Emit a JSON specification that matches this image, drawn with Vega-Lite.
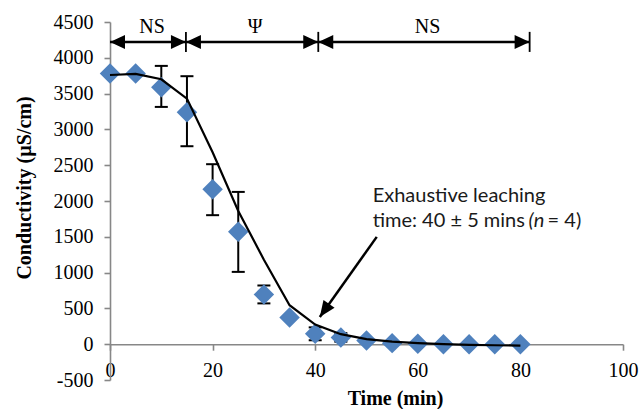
{
  "$schema": "https://vega.github.io/schema/vega-lite/v6.json",
  "width": 513,
  "height": 358,
  "autosize": {"type": "none"},
  "padding": {"left": 110, "top": 22, "right": 20, "bottom": 29},
  "background": "white",
  "config": {"view": {"stroke": null}},
  "datasets": {
    "obs": [
      {"t": 0, "c": 3780}, {"t": 5, "c": 3780}, {"t": 10, "c": 3590}, {"t": 15, "c": 3240},
      {"t": 20, "c": 2165}, {"t": 25, "c": 1570}, {"t": 30, "c": 694}, {"t": 35, "c": 373},
      {"t": 40, "c": 145}, {"t": 45, "c": 95}, {"t": 50, "c": 50}, {"t": 55, "c": 15},
      {"t": 60, "c": 5}, {"t": 65, "c": 0}, {"t": 70, "c": 0}, {"t": 75, "c": 0}, {"t": 80, "c": 0}
    ],
    "err": [
      {"t": 10, "lo": 3314, "hi": 3887}, {"t": 15, "lo": 2765, "hi": 3743},
      {"t": 20, "lo": 1802, "hi": 2514}, {"t": 25, "lo": 1010, "hi": 2127},
      {"t": 30, "lo": 570, "hi": 820}, {"t": 40, "lo": 55, "hi": 235},
      {"t": 45, "lo": 35, "hi": 155}
    ],
    "fit": [
      {"t": 0, "c": 3760}, {"t": 5, "c": 3775}, {"t": 10, "c": 3700}, {"t": 15, "c": 3430},
      {"t": 20, "c": 2680}, {"t": 25, "c": 1860}, {"t": 30, "c": 1180}, {"t": 35, "c": 545},
      {"t": 40, "c": 275}, {"t": 45, "c": 140}, {"t": 50, "c": 70}, {"t": 55, "c": 35},
      {"t": 60, "c": 15}, {"t": 65, "c": 0}, {"t": 70, "c": -10}, {"t": 75, "c": -15}, {"t": 80, "c": -20}
    ],
    "segs": [
      {"s": 0, "e": 14.8, "lx": 8.2, "label": "NS"},
      {"s": 14.8, "e": 40.6, "lx": 28.3, "label": "Ψ"},
      {"s": 40.6, "e": 81.8, "lx": 61.9, "label": "NS"}
    ],
    "arrow": [{"x": 52.0, "y": 1499, "x2": 40.9, "y2": 381}],
    "note": [
      {"x": 51.2, "y": 1989, "text": "Exhaustive leaching"},
      {"x": 51.2, "y": 1631, "text": "time: 40 ± 5 mins"},
      {"x": 85.3, "y": 1631, "text": "= 4)"}
    ],
    "noteItalic": [
      {"x": 81.6, "y": 1631, "text": "(n"}
    ]
  },
  "layer": [
    {
      "data": {"name": "err"},
      "mark": {"type": "rule", "color": "black", "strokeWidth": 2},
      "encoding": {
        "x": {"field": "t", "type": "quantitative", "scale": {"domain": [0, 100], "nice": false},
          "axis": {
            "values": [0, 20, 40, 60, 80, 100], "tickCount": 20, "grid": false, "offset": -35.8,
            "domainColor": "#878787", "domainWidth": 1.6, "tickColor": "#878787", "tickWidth": 1.6, "tickSize": 6,
            "labelFont": "Liberation Serif", "labelFontSize": 20, "labelColor": "black", "labelPadding": 10,
            "labelFlush": false, "labelOverlap": false,
            "title": "Time (min)", "titleFont": "Liberation Serif", "titleFontSize": 20, "titleFontWeight": "bold",
            "titleColor": "black", "titleX": 285, "titleY": 54, "titleBaseline": "middle", "titleAnchor": null
          }
        },
        "y": {"field": "lo", "type": "quantitative", "scale": {"domain": [-500, 4500], "nice": false},
          "axis": {
            "values": [-500, 0, 500, 1000, 1500, 2000, 2500, 3000, 3500, 4000, 4500], "tickCount": 20, "grid": false,
            "domainColor": "#878787", "domainWidth": 1.6, "tickColor": "#878787", "tickWidth": 1.6, "tickSize": 6,
            "labelFont": "Liberation Serif", "labelFontSize": 20, "labelColor": "black", "labelPadding": 11,
            "labelExpr": "'' + datum.value", "labelFlush": false, "labelOverlap": false,
            "title": "Conductivity (µS/cm)", "titleFont": "Liberation Serif", "titleFontSize": 20, "titleFontWeight": "bold",
            "titleColor": "black", "titleX": -86, "titleY": 165.5, "titleBaseline": "middle", "titleAngle": -90
          }
        },
        "y2": {"field": "hi"}
      }
    },
    {
      "data": {"name": "err"},
      "mark": {"type": "point", "shape": "M-1,0L1,0", "filled": false, "stroke": "black", "strokeWidth": 2, "size": 169, "opacity": 1},
      "encoding": {"x": {"field": "t", "type": "quantitative"}, "y": {"field": "lo", "type": "quantitative"}}
    },
    {
      "data": {"name": "err"},
      "mark": {"type": "point", "shape": "M-1,0L1,0", "filled": false, "stroke": "black", "strokeWidth": 2, "size": 169, "opacity": 1},
      "encoding": {"x": {"field": "t", "type": "quantitative"}, "y": {"field": "hi", "type": "quantitative"}}
    },
    {
      "data": {"name": "obs"},
      "mark": {"type": "point", "shape": "diamond", "filled": true, "color": "#4F81BD", "size": 420, "opacity": 1},
      "encoding": {"x": {"field": "t", "type": "quantitative"}, "y": {"field": "c", "type": "quantitative"}}
    },
    {
      "data": {"name": "fit"},
      "mark": {"type": "line", "color": "black", "strokeWidth": 2.2},
      "encoding": {"x": {"field": "t", "type": "quantitative"}, "y": {"field": "c", "type": "quantitative"}}
    },
    {
      "data": {"name": "segs"},
      "mark": {"type": "rule", "color": "black", "strokeWidth": 2.5},
      "encoding": {"x": {"field": "s", "type": "quantitative"}, "x2": {"field": "e"}, "y": {"datum": 4222}}
    },
    {
      "data": {"name": "segs"},
      "mark": {"type": "rule", "color": "black", "strokeWidth": 1.8},
      "encoding": {"x": {"field": "e", "type": "quantitative"}, "y": {"datum": 4082}, "y2": {"datum": 4362}}
    },
    {
      "data": {"name": "segs"},
      "mark": {"type": "point", "shape": "M-1,0L1,-0.93L1,0.93Z", "filled": true, "color": "black", "size": 225, "opacity": 1, "xOffset": 7.5},
      "encoding": {"x": {"field": "s", "type": "quantitative"}, "y": {"datum": 4222}}
    },
    {
      "data": {"name": "segs"},
      "mark": {"type": "point", "shape": "M1,0L-1,-0.93L-1,0.93Z", "filled": true, "color": "black", "size": 225, "opacity": 1, "xOffset": -7.5},
      "encoding": {"x": {"field": "e", "type": "quantitative"}, "y": {"datum": 4222}}
    },
    {
      "data": {"name": "segs"},
      "mark": {"type": "text", "font": "Liberation Serif", "fontSize": 20, "color": "black", "baseline": "middle"},
      "encoding": {"x": {"field": "lx", "type": "quantitative"}, "y": {"datum": 4425}, "text": {"field": "label"}}
    },
    {
      "data": {"name": "arrow"},
      "mark": {"type": "rule", "color": "black", "strokeWidth": 2.5},
      "encoding": {"x": {"field": "x", "type": "quantitative"}, "y": {"field": "y", "type": "quantitative"}, "x2": {"field": "x2"}, "y2": {"field": "y2"}}
    },
    {
      "data": {"name": "arrow"},
      "mark": {"type": "point", "shape": "M0,-1L0.85,1L-0.85,1Z", "filled": true, "color": "black", "size": 256, "opacity": 1, "angle": 215.3, "xOffset": 4.6, "yOffset": -6.5},
      "encoding": {"x": {"field": "x2", "type": "quantitative"}, "y": {"field": "y2", "type": "quantitative"}}
    },
    {
      "data": {"name": "note"},
      "mark": {"type": "text", "font": "Lato", "fontSize": 20, "color": "#1a1a1a", "align": "left", "baseline": "alphabetic"},
      "encoding": {"x": {"field": "x", "type": "quantitative"}, "y": {"field": "y", "type": "quantitative"}, "text": {"field": "text"}}
    },
    {
      "data": {"name": "noteItalic"},
      "mark": {"type": "text", "font": "Lato", "fontSize": 20, "fontStyle": "italic", "color": "#1a1a1a", "align": "left", "baseline": "alphabetic"},
      "encoding": {"x": {"field": "x", "type": "quantitative"}, "y": {"field": "y", "type": "quantitative"}, "text": {"field": "text"}}
    }
  ]
}
